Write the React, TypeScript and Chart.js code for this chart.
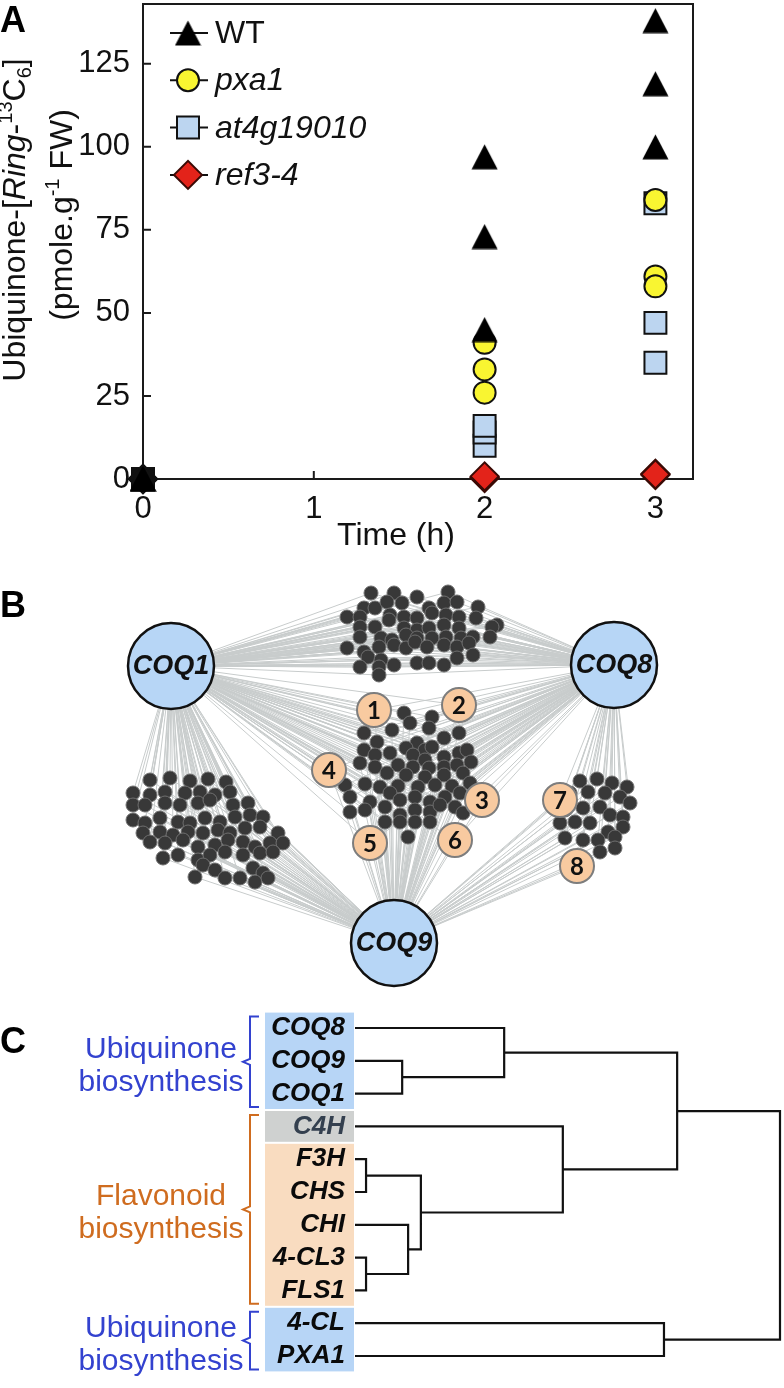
import React, { useEffect, useRef } from 'react';
import { Chart, registerables } from 'chart.js';

Chart.register(...registerables);

const FONT = "'Liberation Sans', Arial, Helvetica, sans-serif";

// ---------------- Panel A data ----------------
const sampleTimes = [0, 0, 0, 2, 2, 2, 3, 3, 3];
const wtValues = [0, 0, 0, 97, 73, 45, 138, 119, 100];
const pxa1Values = [0, 0, 0, 41, 33, 26, 84, 61, 58];
const at4g19010Values = [0, 0, 0, 10, 14, 16, 83, 47, 35];
const ref34Values = [0, 0, 0, 0.5, 0.3, 0.8, 1.6, 1.2, 1.4];
const genotypeNames = ['WT', 'pxa1', 'at4g19010', 'ref3-4'];
const yTickValuesA = [0, 25, 50, 75, 100, 125];
const xTickValuesA = [0, 1, 2, 3];

// ---------------- Panel B data (network layout) ----------------
const hubNames = ['COQ1', 'COQ8', 'COQ9'];
const hubX = [171, 614, 394];
const hubY = [666, 665, 943];

const markerGeneIds = ['1', '2', '3', '4', '5', '6', '7', '8'];
const markerGeneX = [374, 459, 482, 329, 370, 455, 560, 577];
const markerGeneY = [710, 705, 800, 770, 843, 840, 800, 866];
const markerGeneHubs = [[0, 1, 2], [0, 1, 2], [0, 1, 2], [0, 1, 2], [0, 1, 2], [0, 1, 2], [1, 2], [1, 2]];

const topCluster = [
  [371, 593], [394, 593], [417, 597], [448, 592],
  [364, 608], [375, 608], [387, 602], [402, 603], [429, 608], [444, 603], [457, 602], [478, 607],
  [347, 617], [360, 617], [390, 615], [404, 617], [417, 618], [432, 613], [446, 615], [459, 617], [476, 618], [497, 625],
  [360, 627], [375, 627], [389, 620], [404, 628], [417, 630], [429, 628], [444, 625], [459, 628], [492, 627],
  [360, 637], [381, 638], [392, 640], [406, 635], [417, 638], [432, 638], [446, 637], [461, 638], [473, 637], [490, 637],
  [347, 648], [364, 652], [379, 647], [394, 645], [406, 648], [415, 642], [427, 647], [444, 645], [457, 647], [469, 643],
  [368, 657], [381, 660], [417, 663], [429, 663], [444, 665], [457, 658], [473, 655],
  [360, 667], [379, 667], [394, 665],
  [379, 675],
];
const centerCluster = [
  [404, 713], [410, 723], [432, 717], [429, 728], [392, 730], [364, 733], [377, 742], [459, 733], [444, 738], [417, 743],
  [406, 748], [425, 750], [432, 747], [364, 750], [390, 753], [375, 755], [413, 755], [425, 760], [444, 757], [459, 753],
  [467, 750], [360, 763], [375, 767], [398, 765], [413, 767], [429, 768], [444, 767], [457, 765], [471, 762], [387, 773],
  [406, 775], [425, 777], [444, 775], [463, 773],
  [345, 785], [365, 784], [380, 787], [398, 786], [418, 787], [435, 785], [452, 786], [470, 783],
  [350, 797], [370, 802], [390, 793], [400, 800], [415, 797], [430, 802], [445, 797], [460, 793],
  [350, 812], [365, 810], [385, 807], [400, 815], [415, 810], [430, 812], [440, 805], [455, 807], [463, 813],
  [385, 822], [400, 822], [415, 822], [430, 822], [408, 837],
];
const leftCluster = [
  [150, 780], [170, 778], [190, 781], [208, 779], [226, 782],
  [133, 793], [150, 795], [165, 792], [185, 793], [200, 792], [215, 795], [230, 792],
  [133, 805], [145, 805], [165, 803], [180, 805], [198, 803], [210, 800], [233, 805], [248, 803],
  [133, 820], [145, 823], [160, 818], [178, 822], [190, 823], [205, 818], [220, 822], [235, 817], [250, 815], [263, 817],
  [143, 833], [160, 832], [173, 835], [188, 832], [203, 833], [218, 830], [230, 833], [245, 828], [260, 827], [278, 833],
  [150, 842], [165, 843], [183, 840], [198, 847], [215, 845], [228, 840], [243, 842], [255, 847], [270, 843], [283, 843],
  [163, 858], [178, 855], [198, 860], [210, 855], [225, 852], [243, 855], [260, 853], [273, 852],
  [195, 877], [203, 865], [215, 870], [225, 878], [240, 878], [253, 868], [263, 873], [255, 882], [268, 878],
];
const rightCluster = [
  [580, 781], [597, 779], [612, 783], [627, 787],
  [570, 793], [588, 792], [605, 793], [620, 797], [630, 803],
  [565, 810], [583, 808], [600, 807], [610, 815], [623, 817],
  [560, 823], [575, 822], [590, 823], [608, 832], [623, 827],
  [565, 838], [583, 840], [598, 840], [615, 837],
  [600, 852], [615, 848],
];
const clusterList = [topCluster, centerCluster, leftCluster, rightCluster];
const clusterHubs = [[0, 1], [0, 1, 2], [0, 2], [1, 2]];

// ---------------- Panel C data (dendrogram) ----------------
const leafLabels = ['COQ8', 'COQ9', 'COQ1', 'C4H', 'F3H', 'CHS', 'CHI', '4-CL3', 'FLS1', '4-CL', 'PXA1'];
// merges create cluster ids 11, 12, ... in order
const mergeA = [4, 7, 1, 6, 11, 0, 3, 9, 16, 19];
const mergeB = [5, 8, 2, 12, 14, 13, 15, 10, 17, 18];
const mergeHeight = [2.6, 2.6, 11.1, 12.5, 15.5, 35.1, 48.9, 72.7, 75.8, 100];
const groupLines = [['Ubiquinone', 'biosynthesis'], ['Flavonoid', 'biosynthesis'], ['Ubiquinone', 'biosynthesis']];
const groupFirst = [0, 3, 9];
const groupLast = [2, 8, 10];
const groupColors = ['#3342cf', '#cf6c1f', '#3342cf'];
const boxFirst = [0, 3, 4, 9];
const boxLast = [2, 3, 8, 10];
const boxColors = ['#b7d5f6', '#cfd1d0', '#f9dcc0', '#b7d5f6'];

// ---------------- helpers ----------------
function makeTriangle() {
  const c = document.createElement('canvas');
  c.width = 27;
  c.height = 26;
  const g = c.getContext('2d')!;
  g.beginPath();
  g.moveTo(13.5, 0.5);
  g.lineTo(26.5, 25.5);
  g.lineTo(0.5, 25.5);
  g.closePath();
  g.fillStyle = '#000';
  g.fill();
  return c;
}

function drawMarker(ctx: CanvasRenderingContext2D, kind: number, x: number, y: number, tri: HTMLCanvasElement) {
  ctx.save();
  ctx.lineWidth = 2;
  ctx.strokeStyle = '#111';
  if (kind === 0) {
    ctx.drawImage(tri, x - tri.width / 2, y - tri.height / 2);
  } else if (kind === 1) {
    ctx.beginPath();
    ctx.arc(x, y, 11, 0, Math.PI * 2);
    ctx.fillStyle = '#f9f531';
    ctx.fill();
    ctx.stroke();
  } else if (kind === 2) {
    ctx.beginPath();
    ctx.rect(x - 11, y - 11, 22, 22);
    ctx.fillStyle = '#bcd5f0';
    ctx.fill();
    ctx.stroke();
  } else {
    ctx.beginPath();
    ctx.moveTo(x - 14, y);
    ctx.lineTo(x, y - 14);
    ctx.lineTo(x + 14, y);
    ctx.lineTo(x, y + 14);
    ctx.closePath();
    ctx.fillStyle = '#e3231a';
    ctx.fill();
    ctx.strokeStyle = '#3a0a05';
    ctx.stroke();
  }
  ctx.restore();
}

type Seg = { t: string; s: string };
function drawRich(ctx: CanvasRenderingContext2D, segs: Seg[], cx: number, cy: number, size: number) {
  const fontFor = (s: string) => {
    const small = s === 'sup' || s === 'sub';
    const sz = small ? Math.round(size * 0.62) : size;
    return `${s === 'i' ? 'italic ' : ''}${sz}px ${FONT}`;
  };
  ctx.save();
  ctx.translate(cx, cy);
  ctx.rotate(-Math.PI / 2);
  ctx.fillStyle = '#111';
  ctx.textAlign = 'left';
  ctx.textBaseline = 'alphabetic';
  let total = 0;
  const widths: number[] = [];
  segs.forEach((sg) => {
    ctx.font = fontFor(sg.s);
    const w = ctx.measureText(sg.t).width;
    widths.push(w);
    total += w;
  });
  let x = -total / 2;
  segs.forEach((sg, i) => {
    ctx.font = fontFor(sg.s);
    const dy = sg.s === 'sup' ? -size * 0.4 : sg.s === 'sub' ? size * 0.2 : 0;
    ctx.fillText(sg.t, x, dy);
    x += widths[i];
  });
  ctx.restore();
}

const yTitle1: Seg[] = [
  { t: 'Ubiquinone-[', s: 'n' },
  { t: 'Ring', s: 'i' },
  { t: '-', s: 'n' },
  { t: '13', s: 'sup' },
  { t: 'C', s: 'n' },
  { t: '6', s: 'sub' },
  { t: ']', s: 'n' },
];
const yTitle2: Seg[] = [
  { t: '(pmole.g', s: 'n' },
  { t: '-1', s: 'sup' },
  { t: ' FW)', s: 'n' },
];

const noPad = (s: any) => {
  s.paddingTop = 0;
  s.paddingBottom = 0;
  s.paddingLeft = 0;
  s.paddingRight = 0;
};

export default function App() {
  const refA = useRef<HTMLCanvasElement>(null);
  const refB = useRef<HTMLCanvasElement>(null);
  const refC = useRef<HTMLCanvasElement>(null);

  useEffect(() => {
    document.body.style.margin = '0';
    Chart.defaults.font.family = FONT;
    const tri = makeTriangle();
    const charts: Chart[] = [];

    // ---------------- Panel A ----------------
    const mk = (vals: number[]) => sampleTimes.map((t, i) => ({ x: t, y: vals[i] }));
    const zeroDark = (fill: string) => (c: any) => (c.raw && c.raw.x === 0 ? '#111' : fill);

    const panelAPlugin = {
      id: 'panelA',
      beforeDatasetsDraw(chart: any) {
        const { ctx, chartArea: a, scales } = chart;
        ctx.save();
        ctx.strokeStyle = '#1a1a1a';
        ctx.lineWidth = 2;
        ctx.strokeRect(a.left, a.top, a.right - a.left, a.bottom - a.top);
        ctx.beginPath();
        yTickValuesA.forEach((v) => {
          const py = scales.y.getPixelForValue(v);
          ctx.moveTo(a.left, py);
          ctx.lineTo(a.left + 8, py);
        });
        xTickValuesA.forEach((v) => {
          const px = scales.x.getPixelForValue(v);
          ctx.moveTo(px, a.bottom);
          ctx.lineTo(px, a.bottom - 8);
        });
        ctx.stroke();
        ctx.restore();
      },
      afterDraw(chart: any) {
        const { ctx } = chart;
        ctx.save();
        ctx.fillStyle = '#000';
        ctx.font = `bold 36px ${FONT}`;
        ctx.textAlign = 'left';
        ctx.textBaseline = 'alphabetic';
        ctx.fillText('A', 0, 32);
        ctx.font = `32px ${FONT}`;
        ctx.textAlign = 'center';
        ctx.fillStyle = '#111';
        ctx.fillText('Time (h)', 396, 545);
        drawRich(ctx, yTitle1, 25, 220, 32);
        drawRich(ctx, yTitle2, 72, 215, 32);
        genotypeNames.forEach((name, i) => {
          const y = 33 + i * 47.3;
          ctx.beginPath();
          ctx.strokeStyle = '#111';
          ctx.lineWidth = 2;
          ctx.moveTo(170, y);
          ctx.lineTo(208, y);
          ctx.stroke();
          drawMarker(ctx, i, 188, y, tri);
          ctx.fillStyle = '#111';
          ctx.font = `${i === 0 ? '' : 'italic '}32px ${FONT}`;
          ctx.textAlign = 'left';
          ctx.textBaseline = 'middle';
          ctx.fillText(name, 215, y + 1);
        });
        ctx.restore();
      },
    };

    charts.push(
      new Chart(refA.current!, {
        type: 'scatter',
        data: {
          datasets: [
            {
              label: genotypeNames[0],
              data: mk(wtValues),
              pointStyle: tri as any,
              pointRadius: 12,
              pointBackgroundColor: '#000',
              pointBorderColor: '#000',
              clip: false as any,
            },
            {
              label: genotypeNames[1],
              data: mk(pxa1Values),
              pointStyle: 'circle',
              pointRadius: 11,
              pointBorderWidth: 2,
              pointBorderColor: '#111',
              pointBackgroundColor: zeroDark('#f9f531') as any,
              clip: false as any,
            },
            {
              label: genotypeNames[2],
              data: mk(at4g19010Values),
              pointStyle: 'rect',
              pointRadius: 15.5,
              pointBorderWidth: 2,
              pointBorderColor: '#111',
              pointBackgroundColor: zeroDark('#bcd5f0') as any,
              clip: false as any,
            },
            {
              label: genotypeNames[3],
              data: mk(ref34Values),
              pointStyle: 'rectRot',
              pointRadius: 14,
              pointBorderWidth: 2,
              pointBorderColor: zeroDark('#3a0a05') as any,
              pointBackgroundColor: zeroDark('#e3231a') as any,
              clip: false as any,
            },
          ],
        },
        options: {
          responsive: false,
          animation: false,
          events: [],
          layout: { autoPadding: false, padding: { left: 0, top: 4, right: 91, bottom: 0 } },
          plugins: { legend: { display: false }, tooltip: { enabled: false } },
          scales: {
            x: {
              type: 'linear',
              min: 0,
              max: 3.22,
              afterBuildTicks: (s: any) => {
                s.ticks = xTickValuesA.map((v) => ({ value: v }));
              },
              afterFit: (s: any) => {
                s.height = 81;
                noPad(s);
              },
              ticks: {
                font: { size: 31, family: FONT },
                color: '#111',
                padding: 12,
                maxRotation: 0,
                minRotation: 0,
                autoSkip: false,
                callback: (v: any) => String(v),
              },
              grid: { display: false, drawTicks: false },
              border: { display: false },
            },
            y: {
              type: 'linear',
              min: 0,
              max: 143,
              afterBuildTicks: (s: any) => {
                s.ticks = yTickValuesA.map((v) => ({ value: v }));
              },
              afterFit: (s: any) => {
                s.width = 143;
                noPad(s);
              },
              ticks: {
                font: { size: 31, family: FONT },
                color: '#111',
                padding: 13,
                autoSkip: false,
                callback: (v: any) => String(v),
              },
              grid: { display: false, drawTicks: false },
              border: { display: false },
            },
          },
        },
        plugins: [panelAPlugin],
      } as any)
    );

    // ---------------- Panel B ----------------
    const edgePts: any[] = [];
    const addEdge = (h: number, x: number, y: number) => {
      edgePts.push({ x: hubX[h], y: hubY[h] });
      edgePts.push({ x, y });
      edgePts.push({ x, y: null });
    };
    clusterList.forEach((cl, ci) => {
      clusterHubs[ci].forEach((h) => cl.forEach((p) => addEdge(h, p[0], p[1])));
    });
    markerGeneIds.forEach((_, i) => markerGeneHubs[i].forEach((h) => addEdge(h, markerGeneX[i], markerGeneY[i])));

    const dots: any[] = [];
    clusterList.forEach((cl) => cl.forEach((p) => dots.push({ x: p[0], y: p[1] })));

    const panelBPlugin = {
      id: 'panelB',
      afterDatasetsDraw(chart: any) {
        const { ctx } = chart;
        ctx.save();
        ctx.textAlign = 'center';
        ctx.textBaseline = 'middle';
        ctx.fillStyle = '#111';
        ctx.font = `bold italic 27px ${FONT}`;
        chart.getDatasetMeta(0).data.forEach((el: any, i: number) => {
          ctx.fillText(hubNames[i], el.x, el.y + 1);
        });
        ctx.font = `bold 24px Lato, ${FONT}`;
        chart.getDatasetMeta(1).data.forEach((el: any, i: number) => {
          ctx.fillText(markerGeneIds[i], el.x, el.y + 1);
        });
        ctx.font = `bold 36px ${FONT}`;
        ctx.textAlign = 'left';
        ctx.textBaseline = 'alphabetic';
        ctx.fillStyle = '#000';
        ctx.fillText('B', 0, 57);
        ctx.restore();
      },
    };

    charts.push(
      new Chart(refB.current!, {
        type: 'scatter',
        data: {
          datasets: [
            {
              data: hubX.map((x, i) => ({ x, y: hubY[i] })),
              pointRadius: 43,
              pointBorderWidth: 2.5,
              pointBorderColor: '#111',
              pointBackgroundColor: '#b7d6f6',
              clip: false as any,
            },
            {
              data: markerGeneX.map((x, i) => ({ x, y: markerGeneY[i] })),
              pointRadius: 17,
              pointBorderWidth: 2,
              pointBorderColor: '#7d7d7d',
              pointBackgroundColor: '#f8caa0',
              clip: false as any,
            },
            {
              data: dots,
              pointRadius: 7,
              pointBorderWidth: 1,
              pointBorderColor: '#6f6f6f',
              pointBackgroundColor: '#383838',
              clip: false as any,
            },
            {
              data: edgePts,
              showLine: true,
              spanGaps: false,
              pointRadius: 0,
              borderColor: '#c8cccc',
              borderWidth: 1,
              clip: false as any,
            },
          ],
        },
        options: {
          responsive: false,
          animation: false,
          events: [],
          layout: { autoPadding: false, padding: 0 },
          plugins: { legend: { display: false }, tooltip: { enabled: false } },
          scales: {
            x: { type: 'linear', min: 0, max: 784, display: false },
            y: { type: 'linear', min: 560, max: 1000, reverse: true, display: false },
          },
        },
        plugins: [panelBPlugin],
      } as any)
    );

    // ---------------- Panel C ----------------
    const nodeY: number[] = leafLabels.map((_, i) => i);
    const nodeH: number[] = leafLabels.map(() => 0);
    const treePts: any[] = [];
    mergeA.forEach((a, k) => {
      const b = mergeB[k];
      const h = mergeHeight[k];
      treePts.push({ x: nodeH[a], y: nodeY[a] });
      treePts.push({ x: h, y: nodeY[a] });
      treePts.push({ x: h, y: nodeY[b] });
      treePts.push({ x: nodeH[b], y: nodeY[b] });
      treePts.push({ x: h, y: null });
      nodeY.push((nodeY[a] + nodeY[b]) / 2);
      nodeH.push(h);
    });

    const panelCPlugin = {
      id: 'panelC',
      beforeDraw(chart: any) {
        const { ctx, scales } = chart;
        const ys = scales.y;
        ctx.save();
        boxFirst.forEach((f, i) => {
          const t = ys.getPixelForValue(f - 0.5);
          const b = ys.getPixelForValue(boxLast[i] + 0.5);
          ctx.fillStyle = boxColors[i];
          ctx.fillRect(265, t + 1, 89, b - t - 2);
        });
        groupFirst.forEach((f, i) => {
          const t = ys.getPixelForValue(f - 0.5) + 5;
          const b = ys.getPixelForValue(groupLast[i] + 0.5) - 3;
          const mid = (t + b) / 2;
          ctx.strokeStyle = groupColors[i];
          ctx.lineWidth = 2;
          ctx.beginPath();
          ctx.moveTo(259, t);
          ctx.lineTo(250, t);
          ctx.lineTo(250, mid - 3);
          ctx.lineTo(243, mid);
          ctx.lineTo(250, mid + 3);
          ctx.lineTo(250, b);
          ctx.lineTo(259, b);
          ctx.stroke();
          ctx.fillStyle = groupColors[i];
          ctx.font = `30px ${FONT}`;
          ctx.textAlign = 'center';
          ctx.textBaseline = 'alphabetic';
          ctx.fillText(groupLines[i][0], 161, mid - 4);
          ctx.fillText(groupLines[i][1], 161, mid + 29);
        });
        ctx.fillStyle = '#000';
        ctx.font = `bold 36px ${FONT}`;
        ctx.textAlign = 'left';
        ctx.fillText('C', 0, 53);
        ctx.restore();
      },
    };

    charts.push(
      new Chart(refC.current!, {
        type: 'scatter',
        data: {
          datasets: [
            {
              data: treePts,
              showLine: true,
              spanGaps: false,
              pointRadius: 0,
              borderColor: '#111',
              borderWidth: 2.2,
              clip: false as any,
            },
          ],
        },
        options: {
          responsive: false,
          animation: false,
          events: [],
          layout: { autoPadding: false, padding: { left: 0, right: 4, top: 11.6, bottom: 15.6 } },
          plugins: { legend: { display: false }, tooltip: { enabled: false } },
          scales: {
            x: { type: 'linear', min: 0, max: 100, display: false },
            y: {
              type: 'linear',
              min: -0.5,
              max: 10.5,
              reverse: true,
              afterBuildTicks: (s: any) => {
                s.ticks = leafLabels.map((_, i) => ({ value: i }));
              },
              afterFit: (s: any) => {
                s.width = 355;
                noPad(s);
              },
              ticks: {
                autoSkip: false,
                padding: 10,
                font: { size: 26, weight: 'bold', style: 'italic', family: FONT },
                color: (c: any) => (c.tick && c.tick.value === 3 ? '#34404f' : '#0a0a0a'),
                callback: (v: any) => leafLabels[v] ?? '',
              },
              grid: { display: false, drawTicks: false },
              border: { display: false },
            },
          },
        },
        plugins: [panelCPlugin],
      } as any)
    );

    return () => charts.forEach((c) => c.destroy());
  }, []);

  return (
    <div style={{ position: 'absolute', left: 0, top: 0, width: 784, height: 1388, background: '#fff' }}>
      <canvas ref={refA} width={784} height={560} style={{ position: 'absolute', left: 0, top: 0, display: 'block' }} />
      <canvas ref={refB} width={784} height={440} style={{ position: 'absolute', left: 0, top: 560, display: 'block' }} />
      <canvas ref={refC} width={784} height={388} style={{ position: 'absolute', left: 0, top: 1000, display: 'block' }} />
    </div>
  );
}
